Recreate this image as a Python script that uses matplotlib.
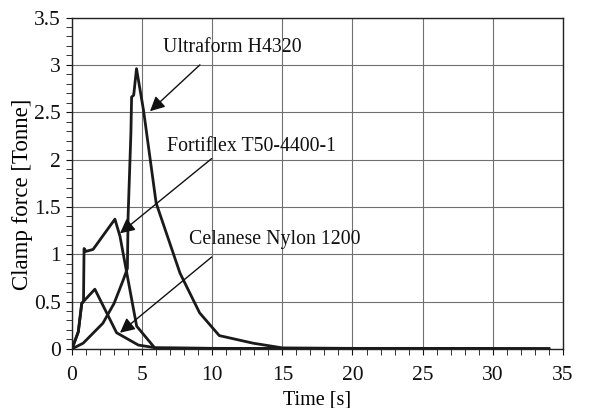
import numpy as np
from matplotlib import pyplot as plt
from matplotlib.ticker import MultipleLocator

# Ultraform H4320
t_ultra = [0, 0.8, 2.2, 3.0, 3.66, 3.95, 4.0, 4.2, 4.25, 4.4, 4.6, 5.1, 6.0, 7.7, 9.1, 10.5, 12.9, 15.0, 20, 25, 30, 34]
f_ultra = [0, 0.06, 0.27, 0.48, 0.73, 0.85, 1.4, 2.28, 2.66, 2.68, 2.96, 2.52, 1.54, 0.80, 0.38, 0.14, 0.06, 0.01, 0.005, 0.005, 0.003, 0.0]

# Fortiflex T50-4400-1
t_forti = [0, 0.45, 0.7, 0.82, 0.86, 1.0, 1.5, 3.06, 3.42, 4.61, 5.9, 10, 20, 34]
f_forti = [0, 0.18, 0.48, 0.5, 1.06, 1.03, 1.05, 1.37, 1.19, 0.24, 0.01, 0.005, 0.003, 0.0]

# Celanese Nylon 1200
t_cela = [0, 0.45, 0.69, 1.63, 3.18, 4.73, 6.0, 10, 20, 34]
f_cela = [0, 0.18, 0.48, 0.63, 0.17, 0.04, 0.01, 0.005, 0.003, 0.0]

labels = ['Ultraform H4320', 'Fortiflex T50-4400-1', 'Celanese Nylon 1200']
label_pos = [(11.4, 3.18), (12.83, 2.14), (14.43, 1.15)]
arrow_tail = [(9.12, 3.0), (9.96, 2.01), (9.96, 0.97)]
arrow_tip = [(5.56, 2.51), (3.42, 1.22), (3.42, 0.17)]


def main():
    plt.rcParams['font.family'] = ['Liberation Serif', 'DejaVu Serif']
    fig = plt.figure(figsize=(5.95, 4.08), dpi=100)
    ax = fig.add_axes([0.121, 0.145, 0.825, 0.812])

    ax.grid(True, which='major', color='#707070', lw=0.8, zorder=0)
    for t, f in [(t_ultra, f_ultra), (t_forti, f_forti), (t_cela, f_cela)]:
        ax.plot(t, f, color='#1a1a1a', lw=2.0, zorder=3)

    for lab, pos, tail, tip in zip(labels, label_pos, arrow_tail, arrow_tip):
        ax.text(pos[0], pos[1], lab, ha='center', va='center', fontsize=14.3,
                color='#111111', zorder=4)
        ax.annotate('', xy=tip, xytext=tail,
                    arrowprops=dict(arrowstyle='-|>', color='#111111', lw=1.0,
                                    mutation_scale=22, shrinkA=0, shrinkB=0))

    ax.set_xlim(0, 35)
    ax.set_ylim(0, 3.5)
    ax.xaxis.set_major_locator(MultipleLocator(5))
    ax.xaxis.set_minor_locator(MultipleLocator(1))
    ax.yaxis.set_major_locator(MultipleLocator(0.5))
    ax.yaxis.set_minor_locator(MultipleLocator(0.1))
    ax.set_xticklabels([f'{v:g}' for v in ax.get_xticks()])
    ax.set_yticklabels([f'{v:g}' for v in ax.get_yticks()])
    ax.tick_params(which='both', direction='out', labelsize=15.5, colors='#111111', length=4)
    ax.tick_params(axis='x', pad=8)
    ax.tick_params(axis='y', pad=4)
    for s in ax.spines.values():
        s.set_linewidth(1.0)
        s.set_color('#222222')

    ax.set_xlabel('Time [s]', fontsize=14.5, labelpad=4)
    ax.set_ylabel('Clamp force [Tonne]', fontsize=16.5)
    ax.yaxis.set_label_coords(-0.079, 0.465)

    fig.savefig('out.png', dpi=100)


if __name__ == '__main__':
    main()
